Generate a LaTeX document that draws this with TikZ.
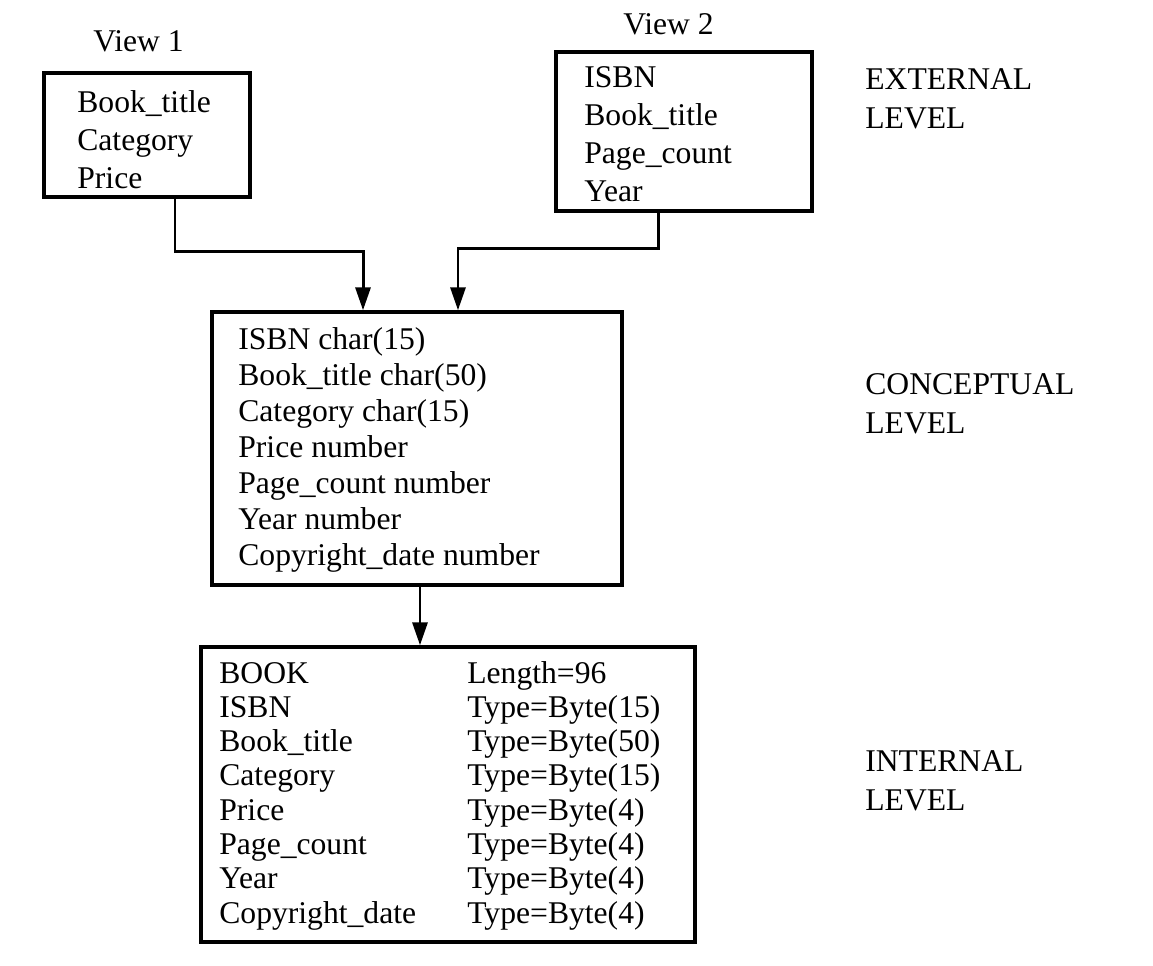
\documentclass[tikz,border=0pt]{standalone}
\usepackage{fontspec}
\setmainfont{Liberation Serif}
\usetikzlibrary{arrows.meta}

\tikzset{
  box/.style={draw,line width=2pt,rectangle,inner sep=0pt},
  txt/.style={anchor=base west,inner sep=0pt,font=\fontsize{18}{21}\selectfont},
  arr/.style={line width=1.7pt,-{Triangle[length=13pt,width=8.5pt]}}
}

\begin{document}
\begin{tikzpicture}[x=0.02cm,y=-0.02cm,line join=miter]
  \useasboundingbox (0,0) rectangle (1153,965);
  % boxes
  \node[box,minimum width=4.12cm,minimum height=2.48cm] (view1) at (147,135) {};
  \node[box,minimum width=5.12cm,minimum height=3.18cm] (view2) at (684,131.5) {};
  \node[box,minimum width=8.2cm,minimum height=5.46cm] (concept) at (417,448.5) {};
  \node[box,minimum width=9.88cm,minimum height=5.9cm] (internal) at (448,794.5) {};
  % view titles
  \node[txt] (v1title) at (93,51) {View 1};
  \node[txt] (v2title) at (623,34) {View 2};
  % box contents
  \foreach \t [count=\i] in {Book\_title,Category,Price}
    \node[txt] (v1row\i) at (77,{112+38*(\i-1)}) {\t};
  \foreach \t [count=\i] in {ISBN,Book\_title,Page\_count,Year}
    \node[txt] (v2row\i) at (584,{87+38.3*(\i-1)}) {\t};
  \foreach \t [count=\i] in {ISBN char(15),Book\_title char(50),Category char(15),
      Price number,Page\_count number,Year number,Copyright\_date number}
    \node[txt] (crow\i) at (238,{349+36*(\i-1)}) {\t};
  \foreach \a/\b [count=\i] in {BOOK/Length=96,ISBN/Type=Byte(15),
      Book\_title/Type=Byte(50),Category/Type=Byte(15),Price/Type=Byte(4),
      Page\_count/Type=Byte(4),Year/Type=Byte(4),Copyright\_date/Type=Byte(4)} {
    \node[txt] (irow\i) at (219,{683+34.3*(\i-1)}) {\a};
    \node[txt] (itype\i) at (467,{683+34.3*(\i-1)}) {\b};
  }
  % level labels (base = last line)
  \node[txt,align=left] (extlevel) at (865,128) {EXTERNAL\\[1pt]LEVEL};
  \node[txt,align=left] (conlevel) at (865,433) {CONCEPTUAL\\[1pt]LEVEL};
  \node[txt,align=left] (intlevel) at (865,810) {INTERNAL\\[1pt]LEVEL};
  % connectors
  \draw[arr] ([xshift=0.56cm]view1.south) -- ++(0,53) -| ([xshift=-1.08cm]concept.north);
  \draw[arr] ([xshift=-0.52cm]view2.south) -- ++(0,36) -| ([xshift=0.82cm]concept.north);
  \draw[arr] ([xshift=0.06cm]concept.south) -- ([xshift=0.06cm]concept.south |- internal.north);
\end{tikzpicture}
\end{document}
